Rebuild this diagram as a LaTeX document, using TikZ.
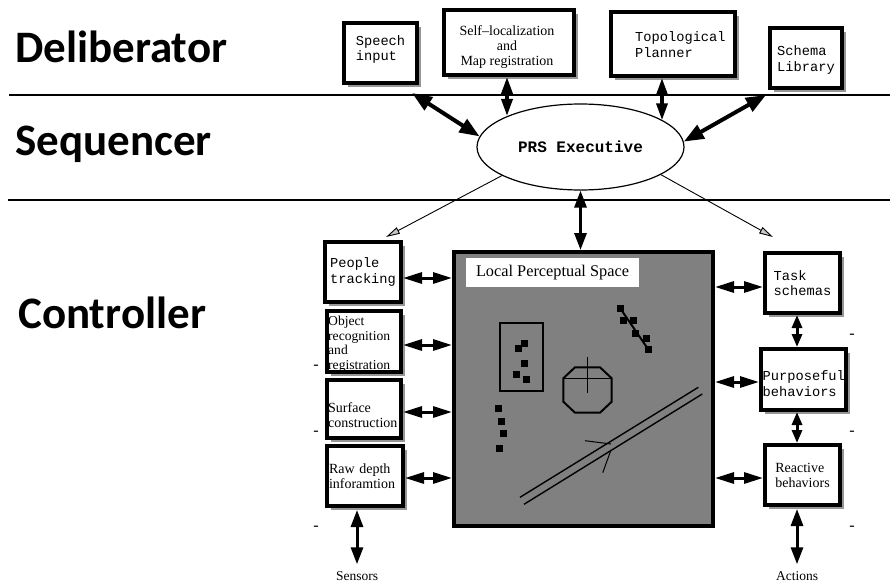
\documentclass[tikz,border=0pt]{standalone}
\usepackage{fontspec}
\setmainfont{Liberation Serif}
\setmonofont{Liberation Mono}
\newfontfamily\layerfont{Carlito}
\usetikzlibrary{arrows.meta,shadows,shapes.geometric,calc}
\definecolor{shadowgray}{RGB}{150,150,150}
\definecolor{lpsgray}{RGB}{128,128,128}
\definecolor{tipgray}{RGB}{200,200,200}
\begin{document}
\begin{tikzpicture}[x=1pt,y=-1pt,
  layer/.style={font=\layerfont\bfseries\fontsize{45}{50}\selectfont, anchor=base west, inner sep=0pt},
  sepline/.style={line width=1.6pt},
  box/.style={draw, line width=4pt, fill=white, inner sep=0pt,
    drop shadow={shadow xshift=4pt, shadow yshift=-4pt, fill=shadowgray, opacity=1}},
  mono/.style={font=\ttfamily\fontsize{13.7}{15.5}\selectfont, align=left, inner sep=0pt},
  serif/.style={font=\fontsize{14}{15}\selectfont, align=left, inner sep=0pt},
  dbl/.style={{Triangle[length=19pt,width=11pt]}-{Triangle[length=19pt,width=11pt]}, line width=3pt},
  dblshort/.style={{Triangle[length=13pt,width=10pt]}-{Triangle[length=13pt,width=10pt]}, line width=3pt},
  dblv/.style={{Triangle[length=17pt,width=12pt]}-{Triangle[length=17pt,width=12pt]}, line width=3pt},
  big/.style={{Triangle[length=20pt,width=15pt]}-{Triangle[length=20pt,width=15pt]}, line width=4pt},
  bigv/.style={{Triangle[length=17pt,width=11pt]}-{Triangle[length=17pt,width=11pt]}, line width=3.5pt},
  thinarrow/.style={-{Triangle[length=14pt,width=7pt,fill=tipgray]}, line width=0.9pt},
  dashmark/.style={font=\fontsize{16}{16}\selectfont, inner sep=0pt},
  lbl/.style={font=\fontsize{13.5}{15}\selectfont, inner sep=0pt}
]
\useasboundingbox (0,0) rectangle (890,583);

% layers
\draw[sepline] (9,95) -- (890,95);
\draw[sepline] (8,200) -- (890,200);
\node[layer] (deliberator) at (15,63) {Deliberator};
\node[layer] (sequencer) at (15,155) {Sequencer};
\node[layer] (controller) at (18,328) {Controller};

% deliberator boxes
\node[box, minimum width=73, minimum height=60] (speech) at (380.5,53) {};
\node[mono] (speechtext) at (380.5,49.5) {Speech\\input};
\node[box, minimum width=130, minimum height=65] (selfloc) at (509,42.5) {};
\node[serif, align=center] (selfloctext) at (507,47) {Self–localization\\and\\Map registration};
\node[box, minimum width=124, minimum height=64] (topo) at (673,44) {};
\node[mono, anchor=west] (topotext) at (635,44.5) {Topological\\Planner};
\node[box, minimum width=72, minimum height=60] (schema) at (806,58) {};
\node[mono] (schematext) at (806,60) {Schema\\Library};

% sequencer
\node[draw, ellipse, line width=1.2pt, minimum width=207, minimum height=86,
  font=\ttfamily\bfseries\fontsize{16}{18}\selectfont] (prs) at (580.5,147) {PRS Executive};

% LPS
\node[draw, line width=4pt, fill=lpsgray, minimum width=259, minimum height=274, inner sep=0pt] (lps) at (583.5,389) {};
\node[fill=white, minimum width=173, minimum height=29, inner sep=0pt,
  font=\fontsize{16.3}{18}\selectfont] (lpslabel) at (552.5,272.5) {Local Perceptual Space};

% left controller boxes
\node[box, mono, minimum width=76, minimum height=60] (people) at (363,272) {People\\tracking};
\node[box, minimum width=74, minimum height=61] (objrec) at (364,341.5) {};
\node[serif, anchor=north west, font=\fontsize{13.6}{14.5}\selectfont] (objrectext) at (328,316) {Object\\recognition\\and\\registration};
\node[box, minimum width=74, minimum height=58] (surface) at (364,409) {};
\node[serif, anchor=west] (surfacetext) at (328,415.5) {Surface\\construction};
\node[box, serif, text width=72, minimum width=76, minimum height=60] (rawdepth) at (365,476) {Raw depth\\inforamtion};

% right controller boxes
\node[box, mono, minimum width=75, minimum height=60] (task) at (802.5,283) {Task\\schemas};
\node[box, minimum width=85, minimum height=61] (purpose) at (803.5,379.5) {};
\node[mono, anchor=west] (purposetext) at (762.5,383.5) {Purposeful\\behaviors};
\node[box, serif, minimum width=75, minimum height=60] (reactive) at (802.5,475) {Reactive\\behaviors};

% bottom labels
\node[lbl] (sensors) at (357,576) {Sensors};
\node[lbl] (actions) at (797,576) {Actions};

% dashes
\node[dashmark] (d1) at (316,367) {-};
\node[dashmark] (d2) at (316,433) {-};
\node[dashmark] (d3) at (316,528) {-};
\node[dashmark] (d4) at (852,336) {-};
\node[dashmark] (d5) at (852,433) {-};
\node[dashmark] (d6) at (852,528) {-};

% top connectors
\coordinate (s1) at (412,93);
\draw[big] (s1) -- (prs.174);
\coordinate (s2) at (507,77);
\draw[bigv] (s2) -- (s2 |- prs.157.6);
\coordinate (s3) at (662,78);
\draw[bigv] (s3) -- (s3 |- prs.18);
\coordinate (s4) at (766,95);
\draw[big] (s4) -- (prs.3);
\draw[dblv] (prs.south) -- (prs.south |- lps.north);

% thin arrows
\coordinate (t1) at (386,237);
\coordinate (t2) at (773,237);
\draw[thinarrow] (prs.-160.5) -- (t1);
\draw[thinarrow] (prs.-19.4) -- (t2);

% left horizontal arrows
\coordinate (a1) at ($(people.east)+(0,6)$);
\draw[dbl] (a1) -- (a1 -| lps.west);
\coordinate (a2) at ($(objrec.east)+(0,3.5)$);
\draw[dbl] (a2) -- (a2 -| lps.west);
\coordinate (a3) at ($(surface.east)+(0,3)$);
\draw[dbl] (a3) -- (a3 -| lps.west);
\coordinate (a4) at ($(rawdepth.east)+(0,2)$);
\draw[dbl] (a4) -- (a4 -| lps.west);

% right horizontal arrows
\coordinate (b1) at ($(task.west)+(0,4)$);
\draw[dbl] (lps.east |- b1) -- (b1);
\coordinate (b2) at ($(purpose.west)+(0,2.5)$);
\draw[dbl] (lps.east |- b2) -- (b2);
\coordinate (b3) at ($(reactive.west)+(0,3)$);
\draw[dbl] (lps.east |- b3) -- (b3);

% vertical arrows
\coordinate (v1) at ($(task.south)+(-5.5,0)$);
\draw[dblshort] (v1) -- (v1 |- purpose.north);
\coordinate (v2) at ($(purpose.south)+(-6.5,0)$);
\draw[dblshort] (v2) -- (v2 |- reactive.north);
\coordinate (v3) at ($(reactive.south)+(-5.5,2)$);
\draw[dblv] (v3) -- ($(actions.north)+(0,-7)$);
\coordinate (v4) at ($(rawdepth.south)+(-8,2)$);
\draw[dblv] (v4) -- ($(sensors.north)+(0,-7)$);

% LPS contents
\draw[line width=1.5pt] (500,323) rectangle (543,391);
\foreach \px/\py in {518/348, 524/343, 524/363, 516/374, 526/379,
                     498/408, 501/421, 503/433, 499/448,
                     620/308, 623/320, 633/320, 635/333, 646/338, 648/349}
  \fill (\px-3.5,\py-3.5) rectangle ++(7,7);
\draw[line width=2pt] (620,308) -- (648,349);
\draw[line width=2pt] (575,367.3) -- (600,367.3) -- (611.7,378.3) -- (611.7,401.7) -- (600,412.7) -- (575,412.7) -- (563.3,401.7) -- (563.3,378.3) -- cycle;
\draw[line width=1.5pt] (563.3,378.3) -- (611.7,378.3);
\draw[line width=1.5pt] (587.3,356.7) -- (587.3,393.3);
\draw[line width=1.4pt] (520,497.3) -- (698.3,387.3);
\draw[line width=1.4pt] (524,504.3) -- (702.3,394);
\draw[line width=1pt] (585,440.7) -- (611,444);
\draw[line width=1pt] (611,450) -- (602.7,472.7);
\end{tikzpicture}
\end{document}
